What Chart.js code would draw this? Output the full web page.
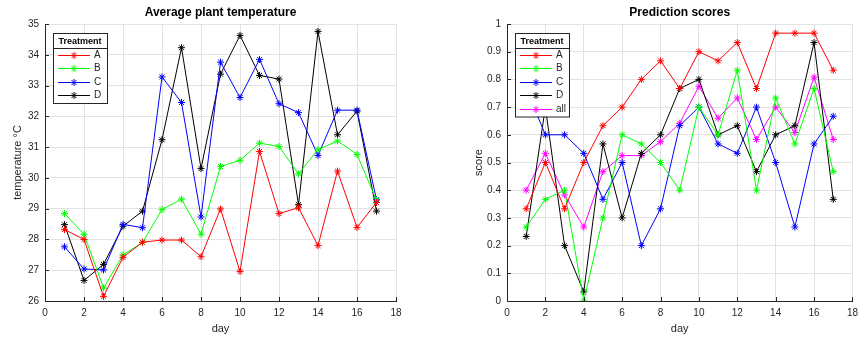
<!DOCTYPE html>
<html>
<head>
<meta charset="utf-8">
<script src="https://cdn.jsdelivr.net/npm/chart.js"></script>
<style>
  html, body { margin: 0; padding: 0; background: #fff; }
  #wrap { position: relative; width: 864px; height: 337px; overflow: hidden; }
  canvas { position: absolute; top: 0; }
</style>
</head>
<body>
<div id="wrap">
  <canvas id="tempChart" width="432" height="337" style="left:0"></canvas>
  <canvas id="scoreChart" width="432" height="337" style="left:432px"></canvas>
</div>
<script>
// dados
const days = [1, 2, 3, 4, 5, 6, 7, 8, 9, 10, 11, 12, 13, 14, 15, 16, 17];

const tempA = [28.32, 28.0, 26.15, 27.42, 27.91, 27.98, 27.98, 27.44, 28.99, 26.96, 30.86, 28.84, 29.03, 27.8, 30.22, 28.39, 29.2];
const tempB = [28.84, 28.17, 26.42, 27.5, 27.9, 28.97, 29.31, 28.17, 30.37, 30.57, 31.13, 31.02, 30.13, 30.92, 31.2, 30.76, 29.27];
const tempC = [27.76, 27.04, 27.01, 28.49, 28.38, 33.28, 32.45, 28.73, 33.76, 32.61, 33.85, 32.41, 32.12, 30.73, 32.2, 32.2, 29.29];
const tempD = [28.48, 26.67, 27.19, 28.43, 28.92, 31.24, 34.23, 30.3, 33.37, 34.63, 33.33, 33.21, 29.13, 34.76, 31.4, 32.17, 28.92];

const scoreA = [0.333, 0.5, 0.333, 0.5, 0.633, 0.7, 0.8, 0.867, 0.767, 0.9, 0.867, 0.933, 0.767, 0.967, 0.967, 0.967, 0.833];
const scoreB = [0.267, 0.367, 0.4, 0.0, 0.3, 0.6, 0.567, 0.5, 0.4, 0.7, 0.6, 0.833, 0.4, 0.733, 0.567, 0.767, 0.467];
const scoreC = [0.767, 0.6, 0.6, 0.533, 0.367, 0.5, 0.2, 0.333, 0.633, 0.7, 0.567, 0.533, 0.7, 0.5, 0.267, 0.567, 0.667];
const scoreD = [0.233, 0.7, 0.2, 0.033, 0.567, 0.3, 0.533, 0.6, 0.767, 0.8, 0.6, 0.633, 0.467, 0.6, 0.633, 0.933, 0.367];
const scoreAll = [0.4, 0.533, 0.383, 0.267, 0.467, 0.525, 0.525, 0.575, 0.642, 0.775, 0.66, 0.733, 0.583, 0.7, 0.608, 0.808, 0.583];

const FONT = "'Liberation Sans', Arial, sans-serif";
const AXIS = '#262626';
const GRID = '#e2e2e2';
const RAIO = 3.5;

function serie(label, valores, cor) {
    return {
        label: label,
        data: days.map((d, i) => ({ x: d, y: valores[i] })),
        borderColor: cor,
        backgroundColor: cor,
        borderWidth: 1,
        pointStyle: 'star',
        pointRadius: RAIO,
        pointBorderWidth: 1,
        pointBorderColor: cor,
        tension: 0
    };
}

function desenhaEstrela(ctx, x, y, r) {
    ctx.beginPath();
    ctx.moveTo(x - r, y); ctx.lineTo(x + r, y);
    ctx.moveTo(x, y - r); ctx.lineTo(x, y + r);
    const d = r * 0.7071;
    ctx.moveTo(x - d, y - d); ctx.lineTo(x + d, y + d);
    ctx.moveTo(x - d, y + d); ctx.lineTo(x + d, y - d);
    ctx.stroke();
}

// titulo, ticks para dentro e legenda com caixa (estilo matlab)
const estiloMatlab = {
    id: 'estiloMatlab',
    afterDraw(chart, args, opts) {
        const ctx = chart.ctx;
        const area = chart.chartArea;
        ctx.save();

        // ticks para dentro
        ctx.strokeStyle = AXIS;
        ctx.lineWidth = 1;
        ctx.beginPath();
        chart.scales.x.ticks.forEach(t => {
            const px = Math.round(chart.scales.x.getPixelForValue(t.value)) + 0.5;
            ctx.moveTo(px, area.bottom);
            ctx.lineTo(px, area.bottom - 4);
        });
        chart.scales.y.ticks.forEach(t => {
            const py = Math.round(chart.scales.y.getPixelForValue(t.value)) + 0.5;
            ctx.moveTo(area.left, py);
            ctx.lineTo(area.left + 4, py);
        });
        ctx.stroke();

        // titulo
        ctx.fillStyle = '#000';
        ctx.font = 'bold 12px ' + FONT;
        ctx.textAlign = 'center';
        ctx.textBaseline = 'middle';
        ctx.fillText(opts.titulo, (area.left + area.right) / 2, 13);

        // legenda
        const lg = opts.legenda;
        const sets = chart.data.datasets;
        const h = lg.cabecalho + sets.length * lg.linha + 1;
        ctx.fillStyle = '#fff';
        ctx.fillRect(lg.x, lg.y, lg.largura, h);
        ctx.strokeStyle = AXIS;
        ctx.strokeRect(lg.x + 0.5, lg.y + 0.5, lg.largura, h);
        ctx.beginPath();
        ctx.moveTo(lg.x, lg.y + lg.cabecalho + 0.5);
        ctx.lineTo(lg.x + lg.largura, lg.y + lg.cabecalho + 0.5);
        ctx.stroke();

        ctx.fillStyle = '#000';
        ctx.font = 'bold 9px ' + FONT;
        ctx.fillText(lg.tituloLegenda, lg.x + lg.largura / 2, lg.y + lg.cabecalho / 2 + 1);

        ctx.font = '10px ' + FONT;
        ctx.textAlign = 'left';
        sets.forEach((ds, i) => {
            const yy = Math.round(lg.y + lg.cabecalho + lg.linha * (i + 0.5)) + 0.5;
            ctx.strokeStyle = ds.borderColor;
            ctx.beginPath();
            ctx.moveTo(lg.x + 5, yy);
            ctx.lineTo(lg.x + 37, yy);
            ctx.stroke();
            desenhaEstrela(ctx, lg.x + 21, yy, RAIO);
            ctx.fillStyle = AXIS;
            ctx.fillText(ds.label, lg.x + 41, yy);
        });
        ctx.restore();
    }
};

function opcoes(cfg) {
    return {
        responsive: false,
        animation: false,
        devicePixelRatio: 1,
        layout: { padding: { left: 0, right: cfg.padDireita, top: 24, bottom: 0 } },
        plugins: {
            legend: { display: false },
            tooltip: { enabled: false },
            estiloMatlab: cfg.plugin
        },
        scales: {
            x: {
                type: 'linear',
                min: 0, max: 18,
                afterFit: s => { s.height = 36; },
                ticks: { stepSize: 2, color: AXIS, padding: 6, font: { family: FONT, size: 10 } },
                grid: { color: GRID, drawTicks: false },
                border: { color: AXIS },
                title: { display: true, text: 'day', color: AXIS, padding: { top: 0, bottom: 1 }, font: { family: FONT, size: 11 } }
            },
            y: {
                min: cfg.yMin, max: cfg.yMax,
                afterFit: s => { s.width = cfg.larguraY; },
                ticks: {
                    stepSize: cfg.passo, color: AXIS, padding: 6,
                    font: { family: FONT, size: 10 },
                    callback: v => String(+v.toFixed(1))
                },
                grid: { color: GRID, drawTicks: false },
                border: { color: AXIS },
                title: { display: true, text: cfg.tituloY, color: AXIS, padding: { top: cfg.padTituloY, bottom: 0 }, font: { family: FONT, size: 11 } }
            }
        }
    };
}

new Chart(document.getElementById('tempChart'), {
    type: 'line',
    data: {
        datasets: [
            serie('A', tempA, '#ff0000'),
            serie('B', tempB, '#00ff00'),
            serie('C', tempC, '#0000ff'),
            serie('D', tempD, '#000000')
        ]
    },
    options: opcoes({
        padDireita: 36, larguraY: 45, yMin: 26, yMax: 35, passo: 1,
        tituloY: 'temperature °C', padTituloY: 11,
        plugin: {
            titulo: 'Average plant temperature',
            legenda: { x: 53, y: 33, largura: 54, cabecalho: 15, linha: 13.5, tituloLegenda: 'Treatment' }
        }
    }),
    plugins: [estiloMatlab]
});

new Chart(document.getElementById('scoreChart'), {
    type: 'line',
    data: {
        datasets: [
            serie('A', scoreA, '#ff0000'),
            serie('B', scoreB, '#00ff00'),
            serie('C', scoreC, '#0000ff'),
            serie('D', scoreD, '#000000'),
            serie('all', scoreAll, '#ff00ff')
        ]
    },
    options: opcoes({
        padDireita: 6, larguraY: 75, yMin: 0, yMax: 1, passo: 0.1,
        tituloY: 'score', padTituloY: 40,
        plugin: {
            titulo: 'Prediction scores',
            legenda: { x: 83, y: 33, largura: 54, cabecalho: 15, linha: 13.5, tituloLegenda: 'Treatment' }
        }
    }),
    plugins: [estiloMatlab]
});
</script>
</body>
</html>
